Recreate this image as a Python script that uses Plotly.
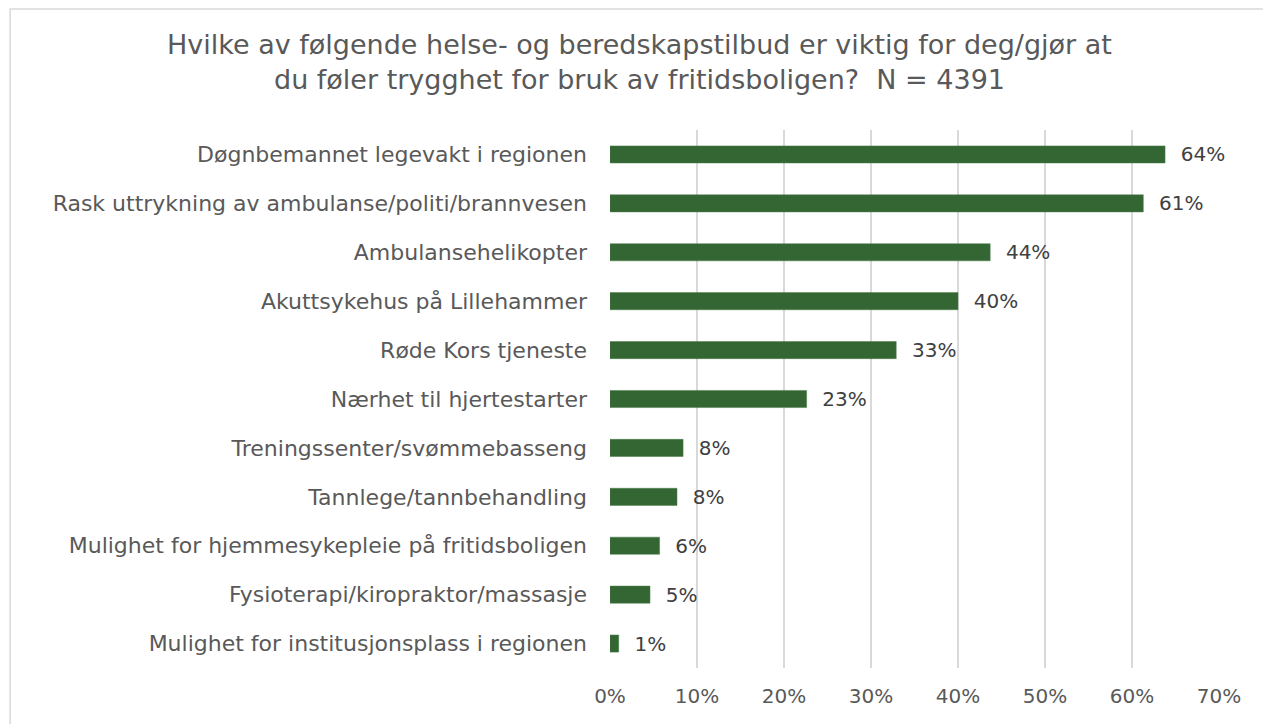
import plotly.graph_objects as go

categories = [
    "Døgnbemannet legevakt i regionen",
    "Rask uttrykning av ambulanse/politi/brannvesen",
    "Ambulansehelikopter",
    "Akuttsykehus på Lillehammer",
    "Røde Kors tjeneste",
    "Nærhet til hjertestarter",
    "Treningssenter/svømmebasseng",
    "Tannlege/tannbehandling",
    "Mulighet for hjemmesykepleie på fritidsboligen",
    "Fysioterapi/kiropraktor/massasje",
    "Mulighet for institusjonsplass i regionen",
]
values = [0.638, 0.613, 0.437, 0.400, 0.329, 0.226, 0.084, 0.077, 0.057, 0.046, 0.010]
x_ticks = [0, 0.1, 0.2, 0.3, 0.4, 0.5, 0.6, 0.7]
x_tick_labels = ["0%", "10%", "20%", "30%", "40%", "50%", "60%", "70%"]

FONT = "DejaVu Sans"
GRAY = "#595959"

fig = go.Figure(go.Bar(
    y=categories,
    x=values,
    orientation="h",
    marker=dict(color="#336633", line=dict(color="#4a7d4a", width=0.5)),
    texttemplate="\u00a0\u00a0%{x:.0%}",
    textposition="outside",
    constraintext="none",
    textfont=dict(family=FONT, size=20, color="#404040"),
    cliponaxis=False,
))

fig.update_layout(
    width=1263, height=716,
    margin=dict(l=602, r=52, t=122, b=56),
    paper_bgcolor="white",
    plot_bgcolor="white",
    bargap=0.65,
    showlegend=False,
    title=dict(
        text="Hvilke av følgende helse- og beredskapstilbud er viktig for deg/gjør at<br>du føler trygghet for bruk av fritidsboligen?  N = 4391",
        x=0.5, xanchor="center", xref="container",
        y=0.936, yanchor="top", yref="container",
        font=dict(family=FONT, size=27, color=GRAY),
    ),
    xaxis=dict(
        range=[0, 0.7],
        tickvals=x_ticks,
        ticktext=x_tick_labels,
        showgrid=True,
        gridcolor="#d9d9d9",
        gridwidth=1.5,
        zeroline=False,
        showline=False,
        ticks="",
        ticklabelstandoff=14,
        tickfont=dict(family=FONT, size=20, color=GRAY),
    ),
    yaxis=dict(
        autorange="reversed",
        showgrid=False,
        zeroline=False,
        showline=False,
        ticks="",
        ticklabelstandoff=22,
        tickfont=dict(family=FONT, size=22, color=GRAY),
    ),
    shapes=[dict(
        type="rect", xref="paper", yref="paper",
        x0=-0.985, x1=1.1, y0=-0.12, y1=1.2249,
        line=dict(color="#d9d9d9", width=1.5),
        fillcolor="rgba(0,0,0,0)", layer="below",
    )],
)

fig.write_html("out.html")
